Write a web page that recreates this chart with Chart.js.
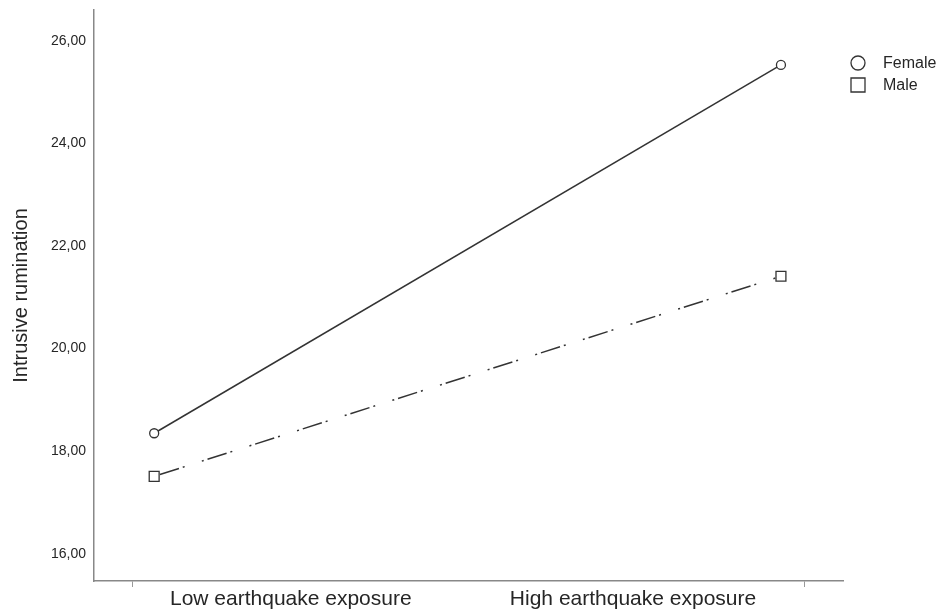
<!DOCTYPE html>
<html>
<head>
<meta charset="utf-8">
<script src="https://cdn.jsdelivr.net/npm/chart.js@4.4.0/dist/chart.umd.min.js"></script>
<style>
  html, body { margin: 0; padding: 0; background: #fff; }
</style>
</head>
<body>
<canvas id="chart" width="942" height="611"></canvas>
<script>
// values
var categories = ['Low earthquake exposure', 'High earthquake exposure'];
var seriesNames = ['Female', 'Male'];
var female = [18.35, 25.53];
var male = [17.51, 21.41];
var yTicks = [16, 18, 20, 22, 24, 26];

var FONT = '"Liberation Sans", Arial, sans-serif';
var INK = '#262626';

function toPoints(values) {
    return values.map(function (v, i) { return { x: i, y: v }; });
}

// legend drawn to the right of the plot, SPSS style
var sideLegend = {
    id: 'sideLegend',
    afterDraw: function (chart) {
        var ctx = chart.ctx;
        var x0 = chart.chartArea.right + 15;
        ctx.save();
        chart.data.datasets.forEach(function (ds, i) {
            var cy = 63 + i * 22;
            ctx.beginPath();
            ctx.setLineDash([]);
            ctx.lineWidth = 1.3;
            ctx.strokeStyle = '#333';
            if (ds.pointStyle === 'circle') {
                ctx.arc(x0, cy, 7, 0, Math.PI * 2);
            } else {
                ctx.rect(x0 - 7, cy - 7, 14, 14);
            }
            ctx.stroke();
            ctx.fillStyle = INK;
            ctx.font = '16px ' + FONT;
            ctx.textBaseline = 'middle';
            ctx.textAlign = 'left';
            ctx.fillText(ds.label, x0 + 25, cy + 1);
        });
        ctx.restore();
    }
};

var chartConfig = {
    type: 'line',
    data: {
        datasets: [{
            label: seriesNames[0],
            data: toPoints(female),
            borderColor: '#333',
            borderWidth: 1.5,
            pointStyle: 'circle',
            pointRadius: 4.5,
            pointBorderWidth: 1.3,
            pointBackgroundColor: '#fff',
            pointBorderColor: '#333'
        }, {
            label: seriesNames[1],
            data: toPoints(male),
            borderColor: '#333',
            borderWidth: 1.5,
            borderDash: [2, 4, 20, 4, 2, 18],
            pointStyle: 'rect',
            pointRadius: 7,
            pointBorderWidth: 1.3,
            pointBackgroundColor: '#fff',
            pointBorderColor: '#333'
        }]
    },
    options: {
        responsive: false,
        animation: false,
        layout: { padding: { top: 10, right: 99, bottom: 0, left: 0 } },
        plugins: {
            legend: { display: false },
            tooltip: { enabled: false }
        },
        scales: {
            x: {
                type: 'linear',
                min: -0.096,
                max: 1.099,
                afterBuildTicks: function (scale) {
                    scale.ticks = [-0.035, 0.218, 0.764, 1.037].map(function (v) { return { value: v }; });
                },
                afterFit: function (scale) { scale.height = 30; },
                ticks: {
                    autoSkip: false,
                    maxRotation: 0,
                    padding: 0,
                    color: INK,
                    font: { family: FONT, size: 21 },
                    callback: function (v, i) {
                        return (i === 1 || i === 2) ? categories[i - 1] : '';
                    }
                },
                grid: {
                    display: true,
                    drawOnChartArea: false,
                    drawTicks: true,
                    tickLength: 6,
                    color: function (c) { return (c.index === 0 || c.index === 3) ? '#999' : 'rgba(0,0,0,0)'; }
                },
                border: { display: true, color: '#888', width: 1.5 }
            },
            y: {
                min: 15.47,
                max: 26.6,
                afterBuildTicks: function (scale) {
                    scale.ticks = yTicks.map(function (v) { return { value: v }; });
                },
                afterFit: function (scale) {
                    scale.width = 94;
                    scale.paddingTop = 0;
                    scale.paddingBottom = 0;
                },
                ticks: {
                    padding: 8,
                    color: INK,
                    font: { family: FONT, size: 14 },
                    callback: function (v) { return v.toFixed(2).replace('.', ','); }
                },
                grid: { display: false, drawTicks: false },
                border: { display: true, color: '#888', width: 1.5 },
                title: {
                    display: true,
                    text: 'Intrusive rumination',
                    color: INK,
                    font: { family: FONT, size: 20 },
                    padding: { top: 9, bottom: 0 }
                }
            }
        }
    },
    plugins: [sideLegend]
};

var chart = new Chart(document.getElementById('chart'), chartConfig);
</script>
</body>
</html>
